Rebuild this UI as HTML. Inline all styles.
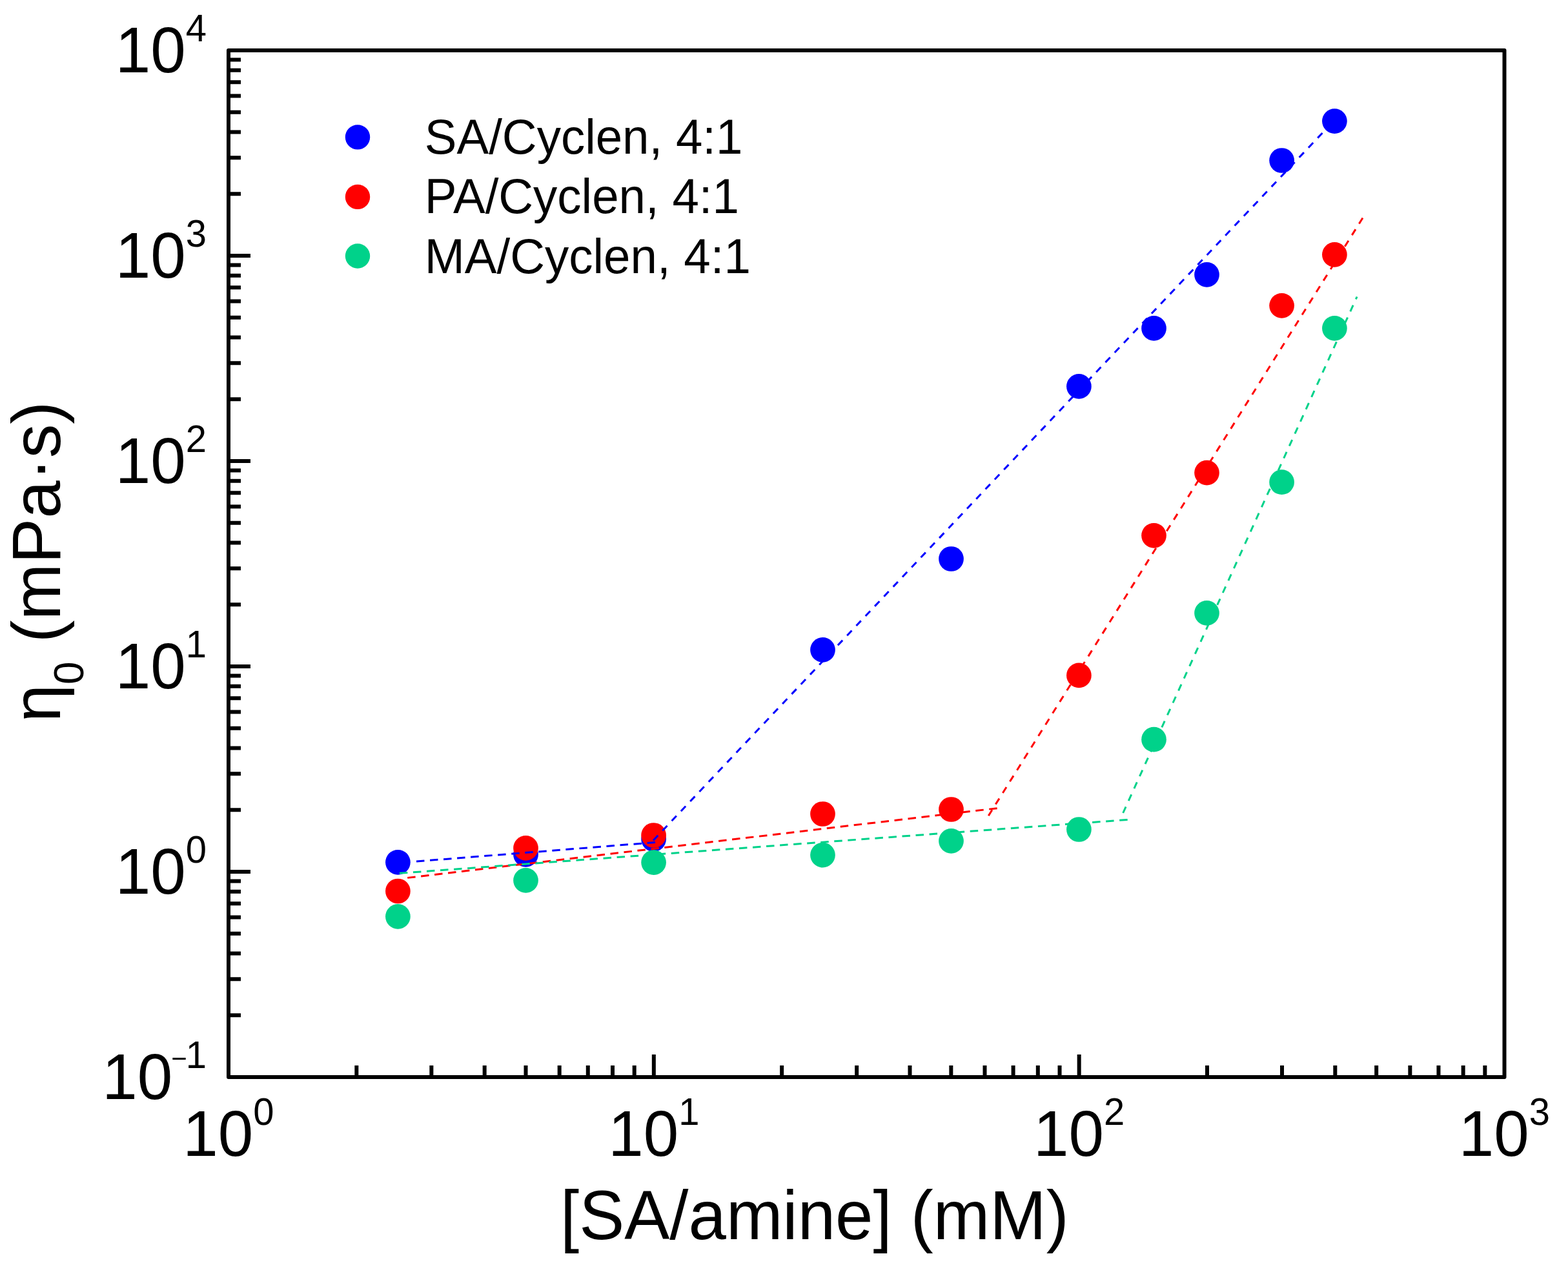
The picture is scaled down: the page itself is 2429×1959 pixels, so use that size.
<!DOCTYPE html><html><head><meta charset="utf-8"><title>Zero-shear viscosity vs concentration</title>
<style>html,body{margin:0;padding:0;background:#fff;}svg{display:block;}</style></head><body>
<svg width="2429" height="1959" viewBox="0 0 2429 1959">
<rect x="0" y="0" width="2429" height="1959" fill="#fff"/>
<g fill="#0000ff"><circle cx="616.4" cy="1335.3" r="19.35"/><circle cx="814.5" cy="1323.4" r="19.35"/><circle cx="1012.6" cy="1299.5" r="19.35"/><circle cx="1274.5" cy="1006.4" r="19.35"/><circle cx="1473.5" cy="865.5" r="19.35"/><circle cx="1671.4" cy="598.4" r="19.35"/><circle cx="1787.5" cy="508.4" r="19.35"/><circle cx="1869.5" cy="425.4" r="19.35"/><circle cx="1985.6" cy="248.5" r="19.35"/><circle cx="2067.4" cy="187.6" r="19.35"/></g>
<g fill="#ff0000"><circle cx="616.4" cy="1380.0" r="19.35"/><circle cx="814.5" cy="1313.4" r="19.35"/><circle cx="1012.6" cy="1293.5" r="19.35"/><circle cx="1274.5" cy="1260.5" r="19.35"/><circle cx="1473.5" cy="1253.5" r="19.35"/><circle cx="1671.4" cy="1045.9" r="19.35"/><circle cx="1787.5" cy="829.3" r="19.35"/><circle cx="1869.5" cy="732.1" r="19.35"/><circle cx="1985.6" cy="473.3" r="19.35"/><circle cx="2067.4" cy="394.4" r="19.35"/></g>
<g fill="#00d28a"><circle cx="616.4" cy="1419.4" r="19.35"/><circle cx="814.5" cy="1363.4" r="19.35"/><circle cx="1012.6" cy="1335.6" r="19.35"/><circle cx="1274.5" cy="1324.1" r="19.35"/><circle cx="1473.5" cy="1302.4" r="19.35"/><circle cx="1671.4" cy="1284.5" r="19.35"/><circle cx="1787.5" cy="1145.2" r="19.35"/><circle cx="1869.5" cy="949.4" r="19.35"/><circle cx="1985.6" cy="746.7" r="19.35"/><circle cx="2067.4" cy="508.3" r="19.35"/></g>
<g fill="none" stroke-width="3.0">
<line x1="645" y1="1334" x2="1015" y2="1304.5" stroke="#0000ff" stroke-dasharray="12.5 8.6"/>
<line x1="1012" y1="1301.5" x2="2068" y2="185.3" stroke="#0000ff" stroke-dasharray="10.6 10.2"/>
<line x1="629.2" y1="1359.6" x2="1546" y2="1251.5" stroke="#ff0000" stroke-dasharray="12.5 8.6" stroke-dashoffset="-2.0"/>
<line x1="1531.3" y1="1263.2" x2="2112.7" y2="334.8" stroke="#ff0000" stroke-dasharray="10.6 10.2"/>
<line x1="617.1" y1="1352.5" x2="1747" y2="1269.4" stroke="#00d28a" stroke-dasharray="12.5 8.6" stroke-dashoffset="-1.8"/>
<line x1="1739.7" y1="1259" x2="2102.1" y2="459.5" stroke="#00d28a" stroke-dasharray="10.6 10.2"/>
</g>
<g stroke="#000" stroke-width="6" fill="none" stroke-linejoin="round">
<rect x="354.0" y="78.0" width="1976.5" height="1590.0"/>
<path d="M354.0 1572.27H373M354.0 1516.28H373M354.0 1476.54H373M354.0 1445.73H373M354.0 1420.55H373M354.0 1399.26H373M354.0 1380.82H373M354.0 1364.55H373M354.0 1254.27H373M354.0 1198.28H373M354.0 1158.54H373M354.0 1127.73H373M354.0 1102.55H373M354.0 1081.26H373M354.0 1062.82H373M354.0 1046.55H373M354.0 1350.00H388M354.0 936.27H373M354.0 880.28H373M354.0 840.54H373M354.0 809.73H373M354.0 784.55H373M354.0 763.26H373M354.0 744.82H373M354.0 728.55H373M354.0 1032.00H388M354.0 618.27H373M354.0 562.28H373M354.0 522.54H373M354.0 491.73H373M354.0 466.55H373M354.0 445.26H373M354.0 426.82H373M354.0 410.55H373M354.0 714.00H388M354.0 300.27H373M354.0 244.28H373M354.0 204.54H373M354.0 173.73H373M354.0 148.55H373M354.0 127.26H373M354.0 108.82H373M354.0 92.55H373M354.0 396.00H388M552.33 1668.0V1650M668.34 1668.0V1650M750.66 1668.0V1650M814.50 1668.0V1650M866.67 1668.0V1650M910.78 1668.0V1650M948.99 1668.0V1650M982.69 1668.0V1650M1211.16 1668.0V1650M1327.18 1668.0V1650M1409.49 1668.0V1650M1473.34 1668.0V1650M1525.51 1668.0V1650M1569.61 1668.0V1650M1607.82 1668.0V1650M1641.52 1668.0V1650M1012.83 1668.0V1633M1870.00 1668.0V1650M1986.01 1668.0V1650M2068.32 1668.0V1650M2132.17 1668.0V1650M2184.34 1668.0V1650M2228.45 1668.0V1650M2266.65 1668.0V1650M2300.35 1668.0V1650M1671.67 1668.0V1633"/>
</g>
<g style="font-family:'Liberation Sans',Arial,sans-serif" fill="#000">
<text transform="translate(178.74 111.90) scale(1 1.025)" font-size="98" >10</text>
<text transform="translate(287.74 63.90) scale(1 1.025)" font-size="58" >4</text>
<text transform="translate(178.74 429.90) scale(1 1.025)" font-size="98" >10</text>
<text transform="translate(287.74 381.90) scale(1 1.025)" font-size="58" >3</text>
<text transform="translate(178.74 747.90) scale(1 1.025)" font-size="98" >10</text>
<text transform="translate(287.74 699.90) scale(1 1.025)" font-size="58" >2</text>
<text transform="translate(178.74 1065.90) scale(1 1.025)" font-size="98" >10</text>
<text transform="translate(287.74 1017.90) scale(1 1.025)" font-size="58" >1</text>
<text transform="translate(178.74 1383.90) scale(1 1.025)" font-size="98" >10</text>
<text transform="translate(287.74 1335.90) scale(1 1.025)" font-size="58" >0</text>
<text transform="translate(158.14 1701.90) scale(1 1.025)" font-size="98" >10</text>
<text transform="translate(265.14 1653.90) scale(1 1.025)" font-size="42" >&#8722;</text>
<text transform="translate(287.74 1653.90) scale(1 1.025)" font-size="58" >1</text>
<text transform="translate(283.37 1790.40) scale(1 1.025)" font-size="98" >10</text>
<text transform="translate(392.37 1742.40) scale(1 1.025)" font-size="58" >0</text>
<text transform="translate(942.20 1790.40) scale(1 1.025)" font-size="98" >10</text>
<text transform="translate(1051.21 1742.40) scale(1 1.025)" font-size="58" >1</text>
<text transform="translate(1601.04 1790.40) scale(1 1.025)" font-size="98" >10</text>
<text transform="translate(1710.04 1742.40) scale(1 1.025)" font-size="58" >2</text>
<text transform="translate(2259.87 1790.40) scale(1 1.025)" font-size="98" >10</text>
<text transform="translate(2368.87 1742.40) scale(1 1.025)" font-size="58" >3</text>
<text transform="translate(868.10 1919.20) scale(1 1.02)" font-size="105" >[SA/amine] (mM)</text>
<text transform="translate(93 1118.3) rotate(-90)" font-size="105">&#951;<tspan font-size="64" dy="36">0</tspan><tspan dy="-36"> (mPa&#183;s)</tspan></text>
<circle cx="554" cy="212.4" r="19.2" fill="#0000ff"/>
<text transform="translate(657.80 238.00) scale(1 1.02)" font-size="74.5" >SA/Cyclen, 4:1</text>
<circle cx="554" cy="304.9" r="19.2" fill="#ff0000"/>
<text transform="translate(657.80 330.20) scale(1 1.02)" font-size="74.5" >PA/Cyclen, 4:1</text>
<circle cx="554" cy="396.5" r="19.2" fill="#00d28a"/>
<text transform="translate(657.80 422.80) scale(1 1.02)" font-size="74.5" >MA/Cyclen, 4:1</text>
</g>
</svg></body></html>
